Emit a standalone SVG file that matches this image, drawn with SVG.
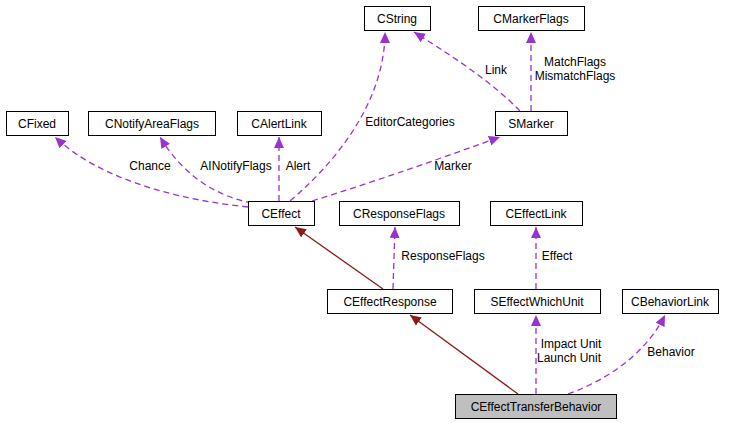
<svg xmlns="http://www.w3.org/2000/svg" width="733" height="424" viewBox="0 0 733 424">
<style>
.n rect{fill:#fff;stroke:#000;stroke-width:1}
text{font-family:"Liberation Sans",Arial,sans-serif;font-size:12px;fill:#000}
.n text{text-anchor:middle}
.d{fill:none;stroke:#9a32cd;stroke-dasharray:6,4;stroke-width:1.3}
.r{fill:none;stroke:#8b1a1a;stroke-width:1.3}
.lbl{text-anchor:middle}
</style>
<defs>
<marker id="mp" markerWidth="12" markerHeight="10" refX="11" refY="5" orient="auto" markerUnits="userSpaceOnUse"><path d="M0,0 L11,5 L0,10 z" fill="#9a32cd"/></marker>
<marker id="mr" markerWidth="12" markerHeight="10" refX="11" refY="5" orient="auto" markerUnits="userSpaceOnUse"><path d="M0,0 L11,5 L0,10 z" fill="#8b1a1a"/></marker>
</defs>
<rect width="733" height="424" fill="#fff"/>
<g id="edges">
<path class="d" marker-end="url(#mp)" d="M248,207 C180,200 100,180 55,137"/>
<path class="d" marker-end="url(#mp)" d="M252,203 C210,195 180,170 160,137"/>
<path class="d" marker-end="url(#mp)" d="M279,201 L279,137"/>
<path class="d" marker-end="url(#mp)" d="M290,201 C350,150 385,90 385,32"/>
<path class="d" marker-end="url(#mp)" d="M312,201 C380,180 450,155 500,137"/>
<path class="d" marker-end="url(#mp)" d="M520,111 C490,80 450,55 414,32"/>
<path class="d" marker-end="url(#mp)" d="M531,111 L531,32"/>
<path class="r" marker-end="url(#mr)" d="M383,289 L295,227"/>
<path class="d" marker-end="url(#mp)" d="M393,289 L395,227"/>
<path class="r" marker-end="url(#mr)" d="M518,394 L410,315"/>
<path class="d" marker-end="url(#mp)" d="M536,289 L536,227"/>
<path class="d" marker-end="url(#mp)" d="M536,394 L536,315"/>
<path class="d" marker-end="url(#mp)" d="M568,394 C620,375 650,345 665,315"/>
<text class="lbl" x="150" y="170">Chance</text>
<text class="lbl" x="236" y="170">AINotifyFlags</text>
<text class="lbl" x="298" y="170">Alert</text>
<text class="lbl" x="410" y="126">EditorCategories</text>
<text class="lbl" x="453" y="170">Marker</text>
<text class="lbl" x="496" y="74">Link</text>
<text class="lbl" x="575" y="66">MatchFlags</text>
<text class="lbl" x="575" y="80">MismatchFlags</text>
<text class="lbl" x="443" y="260">ResponseFlags</text>
<text class="lbl" x="557" y="260">Effect</text>
<text class="lbl" x="571" y="348">Impact Unit</text>
<text class="lbl" x="569" y="362">Launch Unit</text>
<text class="lbl" x="671" y="356">Behavior</text>
</g>
<g id="CString" class="n"><rect x="364.5" y="6.5" width="66" height="24"/><text x="397" y="23">CString</text></g>
<g id="CMarkerFlags" class="n"><rect x="478.5" y="6.5" width="106" height="24"/><text x="531" y="23">CMarkerFlags</text></g>
<g id="CFixed" class="n"><rect x="6.5" y="111.5" width="62" height="24"/><text x="37" y="128">CFixed</text></g>
<g id="CNotifyAreaFlags" class="n"><rect x="88.5" y="111.5" width="127" height="24"/><text x="152" y="128">CNotifyAreaFlags</text></g>
<g id="CAlertLink" class="n"><rect x="237.5" y="111.5" width="84" height="24"/><text x="279" y="128">CAlertLink</text></g>
<g id="SMarker" class="n"><rect x="495.5" y="111.5" width="72" height="24"/><text x="531" y="128">SMarker</text></g>
<g id="CEffect" class="n"><rect x="248.5" y="201.5" width="66" height="24"/><text x="281" y="218">CEffect</text></g>
<g id="CResponseFlags" class="n"><rect x="339.5" y="201.5" width="120" height="24"/><text x="399" y="218">CResponseFlags</text></g>
<g id="CEffectLink" class="n"><rect x="490.5" y="201.5" width="92" height="24"/><text x="536" y="218">CEffectLink</text></g>
<g id="CEffectResponse" class="n"><rect x="327.5" y="289.5" width="125" height="24"/><text x="390" y="306">CEffectResponse</text></g>
<g id="SEffectWhichUnit" class="n"><rect x="474.5" y="289.5" width="126" height="24"/><text x="537" y="306">SEffectWhichUnit</text></g>
<g id="CBehaviorLink" class="n"><rect x="622.5" y="289.5" width="96" height="24"/><text x="670" y="306">CBehaviorLink</text></g>
<g id="CEffectTransferBehavior" class="n"><rect x="455.5" y="394.5" width="161" height="24" style="fill:#bfbfbf"/><text x="536" y="411">CEffectTransferBehavior</text></g>
</svg>
